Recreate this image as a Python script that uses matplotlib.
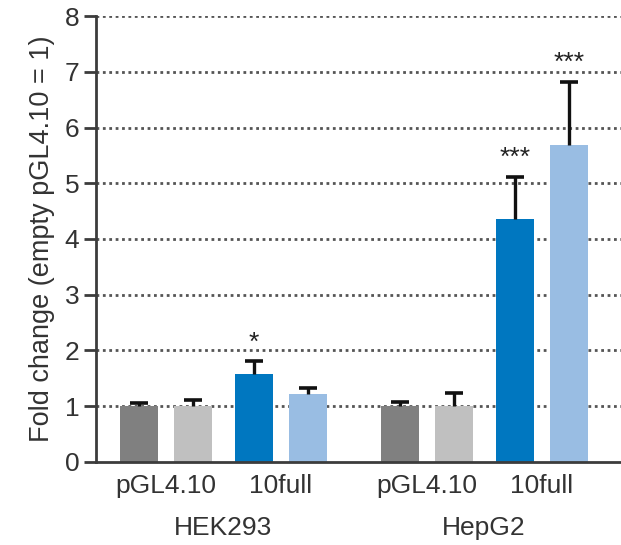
import matplotlib
matplotlib.use("Agg")
import matplotlib.pyplot as plt
from matplotlib.transforms import blended_transform_factory
import numpy as np

plt.rcParams['font.family'] = ['Liberation Sans', 'DejaVu Sans']

cell_lines = ["HEK293", "HepG2"]
constructs = ["pGL4.10", "10full"]
# two replicates per construct: mean fold change and upper SEM
means = [1.00, 1.00, 1.57, 1.21,
         1.00, 1.00, 4.35, 5.69]
errors = [0.05, 0.10, 0.23, 0.11,
          0.07, 0.23, 0.77, 1.13]
stars = ["", "", "*", "",
         "", "", "***", "***"]
colors = ["#808080", "#c0c0c0", "#0077c0", "#99bde3"] * 2

# bar positions: pairs within a construct, constructs within a cell line
pair_step, construct_step, group_step = 1.0, 1.13, 1.7
positions = []
x = 0.0
for g in range(len(cell_lines)):
    for c in range(len(constructs)):
        for r in range(2):
            positions.append(x)
            x += pair_step if r == 0 else 0
        x += construct_step if c == 0 else 0
    x += group_step
positions = np.array(positions)
means = np.array(means)
errors = np.array(errors)
tops = means + errors

fig = plt.figure(figsize=(6.21, 5.45), dpi=100)
ax = fig.add_axes([96/621, 1 - 461.7/545, 1 - 96/621, (461.7 - 16.1)/545])

axis_col = "#3c3c3c"
text_col = "#333333"

for yv in range(1, 9):
    ax.axhline(yv, color="#555555", lw=2.0, ls=(0, (1, 1.3)), zorder=0)

ax.bar(positions, means, width=0.70, color=colors, zorder=2)

# upper-only error bars with a single cap
ax.vlines(positions, means, tops, color="#111111", lw=2.4, zorder=3)
ax.plot(positions, tops, ls="none", marker="_", markersize=12.5, mew=2.6,
        color="#111111", zorder=3)

for px, t, s in zip(positions, tops, stars):
    if s:
        ax.text(px, t + 0.12, s, ha="center", va="bottom", fontsize=19,
                color="#222222")

ax.set_ylim(0, 8)
ax.set_xlim(-0.796, 8.93)
ax.set_yticks(range(0, 9))
ax.tick_params(axis="y", direction="out", length=9, width=2, colors=axis_col,
               labelsize=19, labelcolor=text_col, pad=3)

pair_centers = (positions[0::2] + positions[1::2]) / 2
ax.set_xticks(pair_centers)
ax.set_xticklabels(constructs * len(cell_lines))
ax.tick_params(axis="x", length=0, labelsize=19, labelcolor=text_col, pad=9)

trans = blended_transform_factory(ax.transData, ax.transAxes)
group_centers = (positions[0::4] + positions[3::4]) / 2
for gc, name in zip(group_centers, cell_lines):
    ax.text(gc, -0.149, name, transform=trans, ha="center", va="center",
            fontsize=19, color=text_col)

for side in ["top", "right"]:
    ax.spines[side].set_visible(False)
for side in ["left", "bottom"]:
    ax.spines[side].set_color(axis_col)
    ax.spines[side].set_linewidth(2)

ax.set_ylabel("Fold change (empty pGL4.10 = 1)", fontsize=19.5, color=text_col,
              labelpad=7)

fig.savefig("out.png", dpi=100)
